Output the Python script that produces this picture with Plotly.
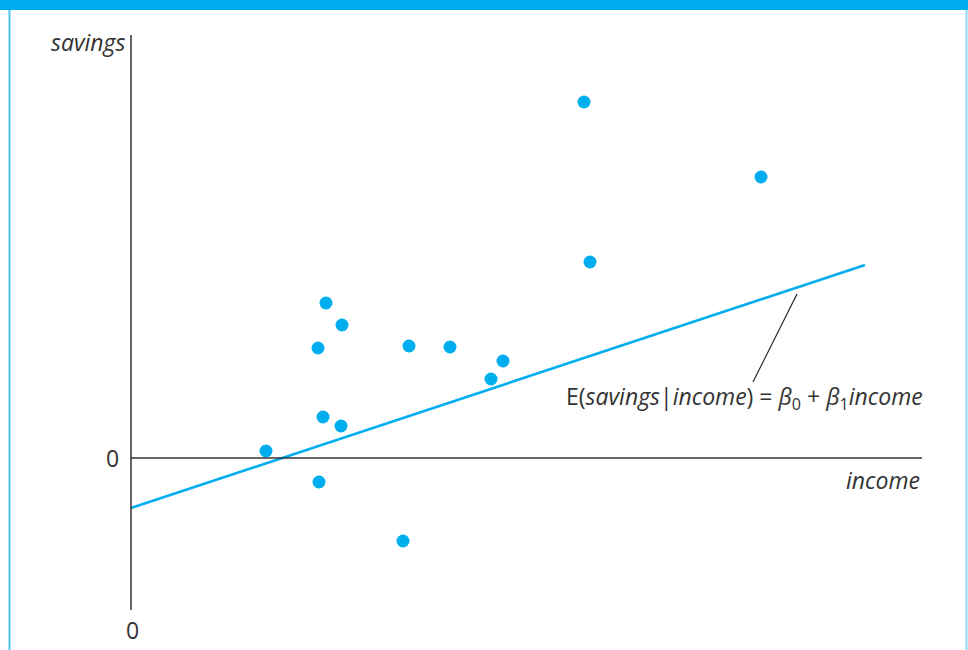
import plotly.graph_objects as go

# Data (income, savings) in arbitrary units
income = [13.5, 18.8, 18.7, 19.5, 19.2, 21.1, 21.0, 27.2, 27.8, 31.9, 36.0, 37.2, 45.3, 45.9, 63.0]
savings = [0.7, -2.4, 11.0, 15.5, 4.1, 13.3, 3.2, -8.3, 11.2, 11.1, 7.9, 9.7, 35.6, 19.6, 28.1]

beta0 = -5.0
beta1 = 0.331
line_x = [0.0, 73.4]
line_y = [beta0 + beta1 * v for v in line_x]

CYAN = "#00AEEF"
INK = "#333333"
FONT = "Open Sans"
FS = 23

fig = go.Figure()

fig.add_trace(go.Scatter(x=line_x, y=line_y, mode="lines",
                         line=dict(color=CYAN, width=2.6), hoverinfo="skip"))
fig.add_trace(go.Scatter(x=income, y=savings, mode="markers",
                         marker=dict(color=CYAN, size=13, line=dict(width=0)),
                         hoverinfo="skip"))

shapes = [
    # y axis
    dict(type="line", xref="x", yref="y", x0=0, x1=0, y0=-15.2, y1=42.3,
         line=dict(color=INK, width=1.5)),
    # x axis
    dict(type="line", xref="x", yref="y", x0=0, x1=79.1, y0=0, y1=0,
         line=dict(color=INK, width=1.5)),
    # leader line for equation
    dict(type="line", xref="x", yref="y", x0=66.6, x1=62.2, y0=16.4, y1=7.6,
         line=dict(color="#222222", width=1.2)),
    # top banner
    dict(type="rect", xref="paper", yref="paper", x0=0, x1=1, y0=1 - 10 / 650, y1=1,
         line=dict(width=0), fillcolor=CYAN, layer="above"),
    # side borders
    dict(type="line", xref="paper", yref="paper", x0=9.5 / 968, x1=9.5 / 968, y0=0, y1=1 - 10 / 650,
         line=dict(color="#4FC3F0", width=2)),
    dict(type="line", xref="paper", yref="paper", x0=966.5 / 968, x1=966.5 / 968, y0=0, y1=1 - 10 / 650,
         line=dict(color="#8FD8F5", width=2)),
]

annotations = [
    dict(x=-0.3, y=41.6, xref="x", yref="y", text="<i>savings</i>", showarrow=False,
         xanchor="right", yanchor="middle", font=dict(family=FONT, size=FS, color=INK)),
    dict(x=-1.0, y=0, xref="x", yref="y", text="0", showarrow=False,
         xanchor="right", yanchor="middle", font=dict(family=FONT, size=FS, color=INK)),
    dict(x=0.1, y=-17.2, xref="x", yref="y", text="0", showarrow=False,
         xanchor="center", yanchor="middle", font=dict(family=FONT, size=FS, color=INK)),
    dict(x=79.1, y=-2.2, xref="x", yref="y", text="<i>income</i>", showarrow=False,
         xanchor="right", yanchor="middle", font=dict(family=FONT, size=FS, color=INK)),
    dict(x=79.4, y=6.1, xref="x", yref="y",
         text="E(<i>savings</i>|<i>income</i>) = <i>β</i><sub>0</sub> + <i>β</i><sub>1</sub><i>income</i>",
         showarrow=False, xanchor="right", yanchor="middle",
         font=dict(family=FONT, size=FS, color=INK)),
]

fig.update_layout(
    width=968, height=650,
    margin=dict(l=0, r=0, t=0, b=0),
    paper_bgcolor="white", plot_bgcolor="white",
    showlegend=False,
    xaxis=dict(range=[-13.1, 83.7], visible=False, fixedrange=True),
    yaxis=dict(range=[-19.2, 45.8], visible=False, fixedrange=True),
    shapes=shapes, annotations=annotations,
)

fig.write_html("out.html", config={"displayModeBar": False},
               post_script="document.body.style.margin='0';document.body.style.overflow='hidden';")
